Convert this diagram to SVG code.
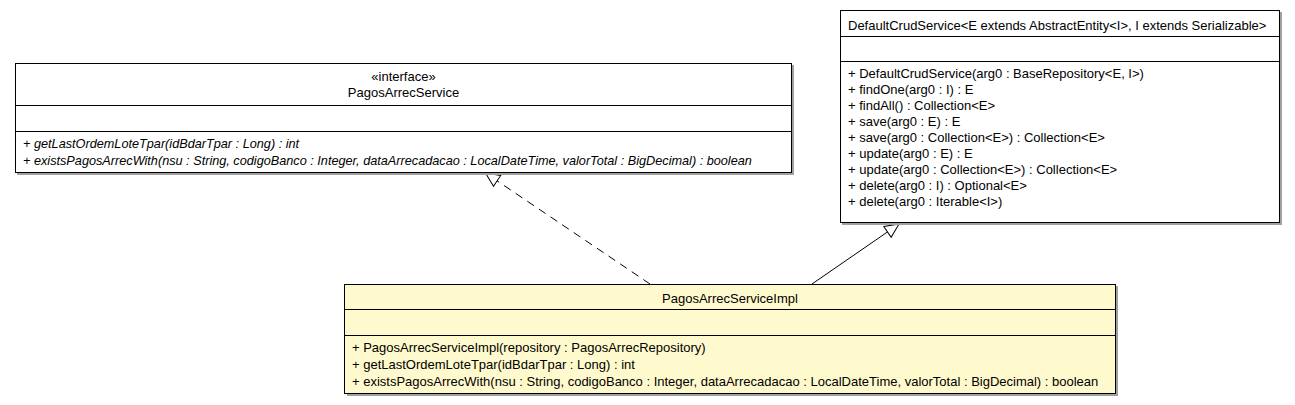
<svg xmlns="http://www.w3.org/2000/svg" width="1295" height="405" viewBox="0 0 1295 405">
<style>
text{font-family:"Liberation Sans",Arial,sans-serif;font-size:13px;fill:#000}
.c{text-anchor:middle}
.i{font-style:italic;font-size:12.7px}
.box{stroke:#000;stroke-width:1}
.sh{fill:#a0a0a0}
.ln{stroke:#000;stroke-width:1;fill:none}
</style>
<defs>
<marker id="tri" viewBox="0 0 16 16" refX="15" refY="8" markerWidth="16" markerHeight="16" markerUnits="userSpaceOnUse" orient="auto">
<path d="M1,1.5 L15,8 L1,14.5 Z" fill="#fff" stroke="#000" stroke-width="1"/>
</marker>
</defs>
<rect width="1295" height="405" fill="#fff"/>
<g id="connectors">
<path class="ln" d="M650,284 L485.5,173" stroke-dasharray="8,6" marker-end="url(#tri)"/>
<path class="ln" d="M812,284 L899,224" marker-end="url(#tri)"/>
</g>
<g id="PagosArrecService">
<rect class="sh" x="17" y="65" width="777" height="110"/>
<rect class="box" x="15.5" y="63.5" width="776" height="109" fill="#fff"/>
<path class="ln" d="M15.5,105.5 H791.5 M15.5,131.5 H791.5"/>
<text class="c" x="403.5" y="81">«interface»</text>
<text class="c" x="403.5" y="97">PagosArrecService</text>
<text class="i" x="23" y="148">+ getLastOrdemLoteTpar(idBdarTpar : Long) : int</text>
<text class="i" x="23" y="165">+ existsPagosArrecWith(nsu : String, codigoBanco : Integer, dataArrecadacao : LocalDateTime, valorTotal : BigDecimal) : boolean</text>
</g>
<g id="DefaultCrudService">
<rect class="sh" x="842" y="12" width="440" height="213"/>
<rect class="box" x="840.5" y="10.5" width="439" height="212" fill="#fff"/>
<path class="ln" d="M840.5,36.5 H1279.5 M840.5,61.5 H1279.5"/>
<text x="848" y="30">DefaultCrudService&lt;E extends AbstractEntity&lt;I&gt;, I extends Serializable&gt;</text>
<text x="848" y="78">+ DefaultCrudService(arg0 : BaseRepository&lt;E, I&gt;)</text>
<text x="848" y="94">+ findOne(arg0 : I) : E</text>
<text x="848" y="110">+ findAll() : Collection&lt;E&gt;</text>
<text x="848" y="126">+ save(arg0 : E) : E</text>
<text x="848" y="142">+ save(arg0 : Collection&lt;E&gt;) : Collection&lt;E&gt;</text>
<text x="848" y="158">+ update(arg0 : E) : E</text>
<text x="848" y="174">+ update(arg0 : Collection&lt;E&gt;) : Collection&lt;E&gt;</text>
<text x="848" y="190">+ delete(arg0 : I) : Optional&lt;E&gt;</text>
<text x="848" y="206">+ delete(arg0 : Iterable&lt;I&gt;)</text>
</g>
<g id="PagosArrecServiceImpl">
<rect class="sh" x="347" y="286" width="771" height="110"/>
<rect class="box" x="344.5" y="284.5" width="771" height="109" fill="#fffacd"/>
<path class="ln" d="M344.5,309.5 H1115.5 M344.5,335.5 H1115.5"/>
<text class="c" x="730" y="303">PagosArrecServiceImpl</text>
<text x="352" y="352">+ PagosArrecServiceImpl(repository : PagosArrecRepository)</text>
<text x="352" y="369">+ getLastOrdemLoteTpar(idBdarTpar : Long) : int</text>
<text x="352" y="386">+ existsPagosArrecWith(nsu : String, codigoBanco : Integer, dataArrecadacao : LocalDateTime, valorTotal : BigDecimal) : boolean</text>
</g>
</svg>
